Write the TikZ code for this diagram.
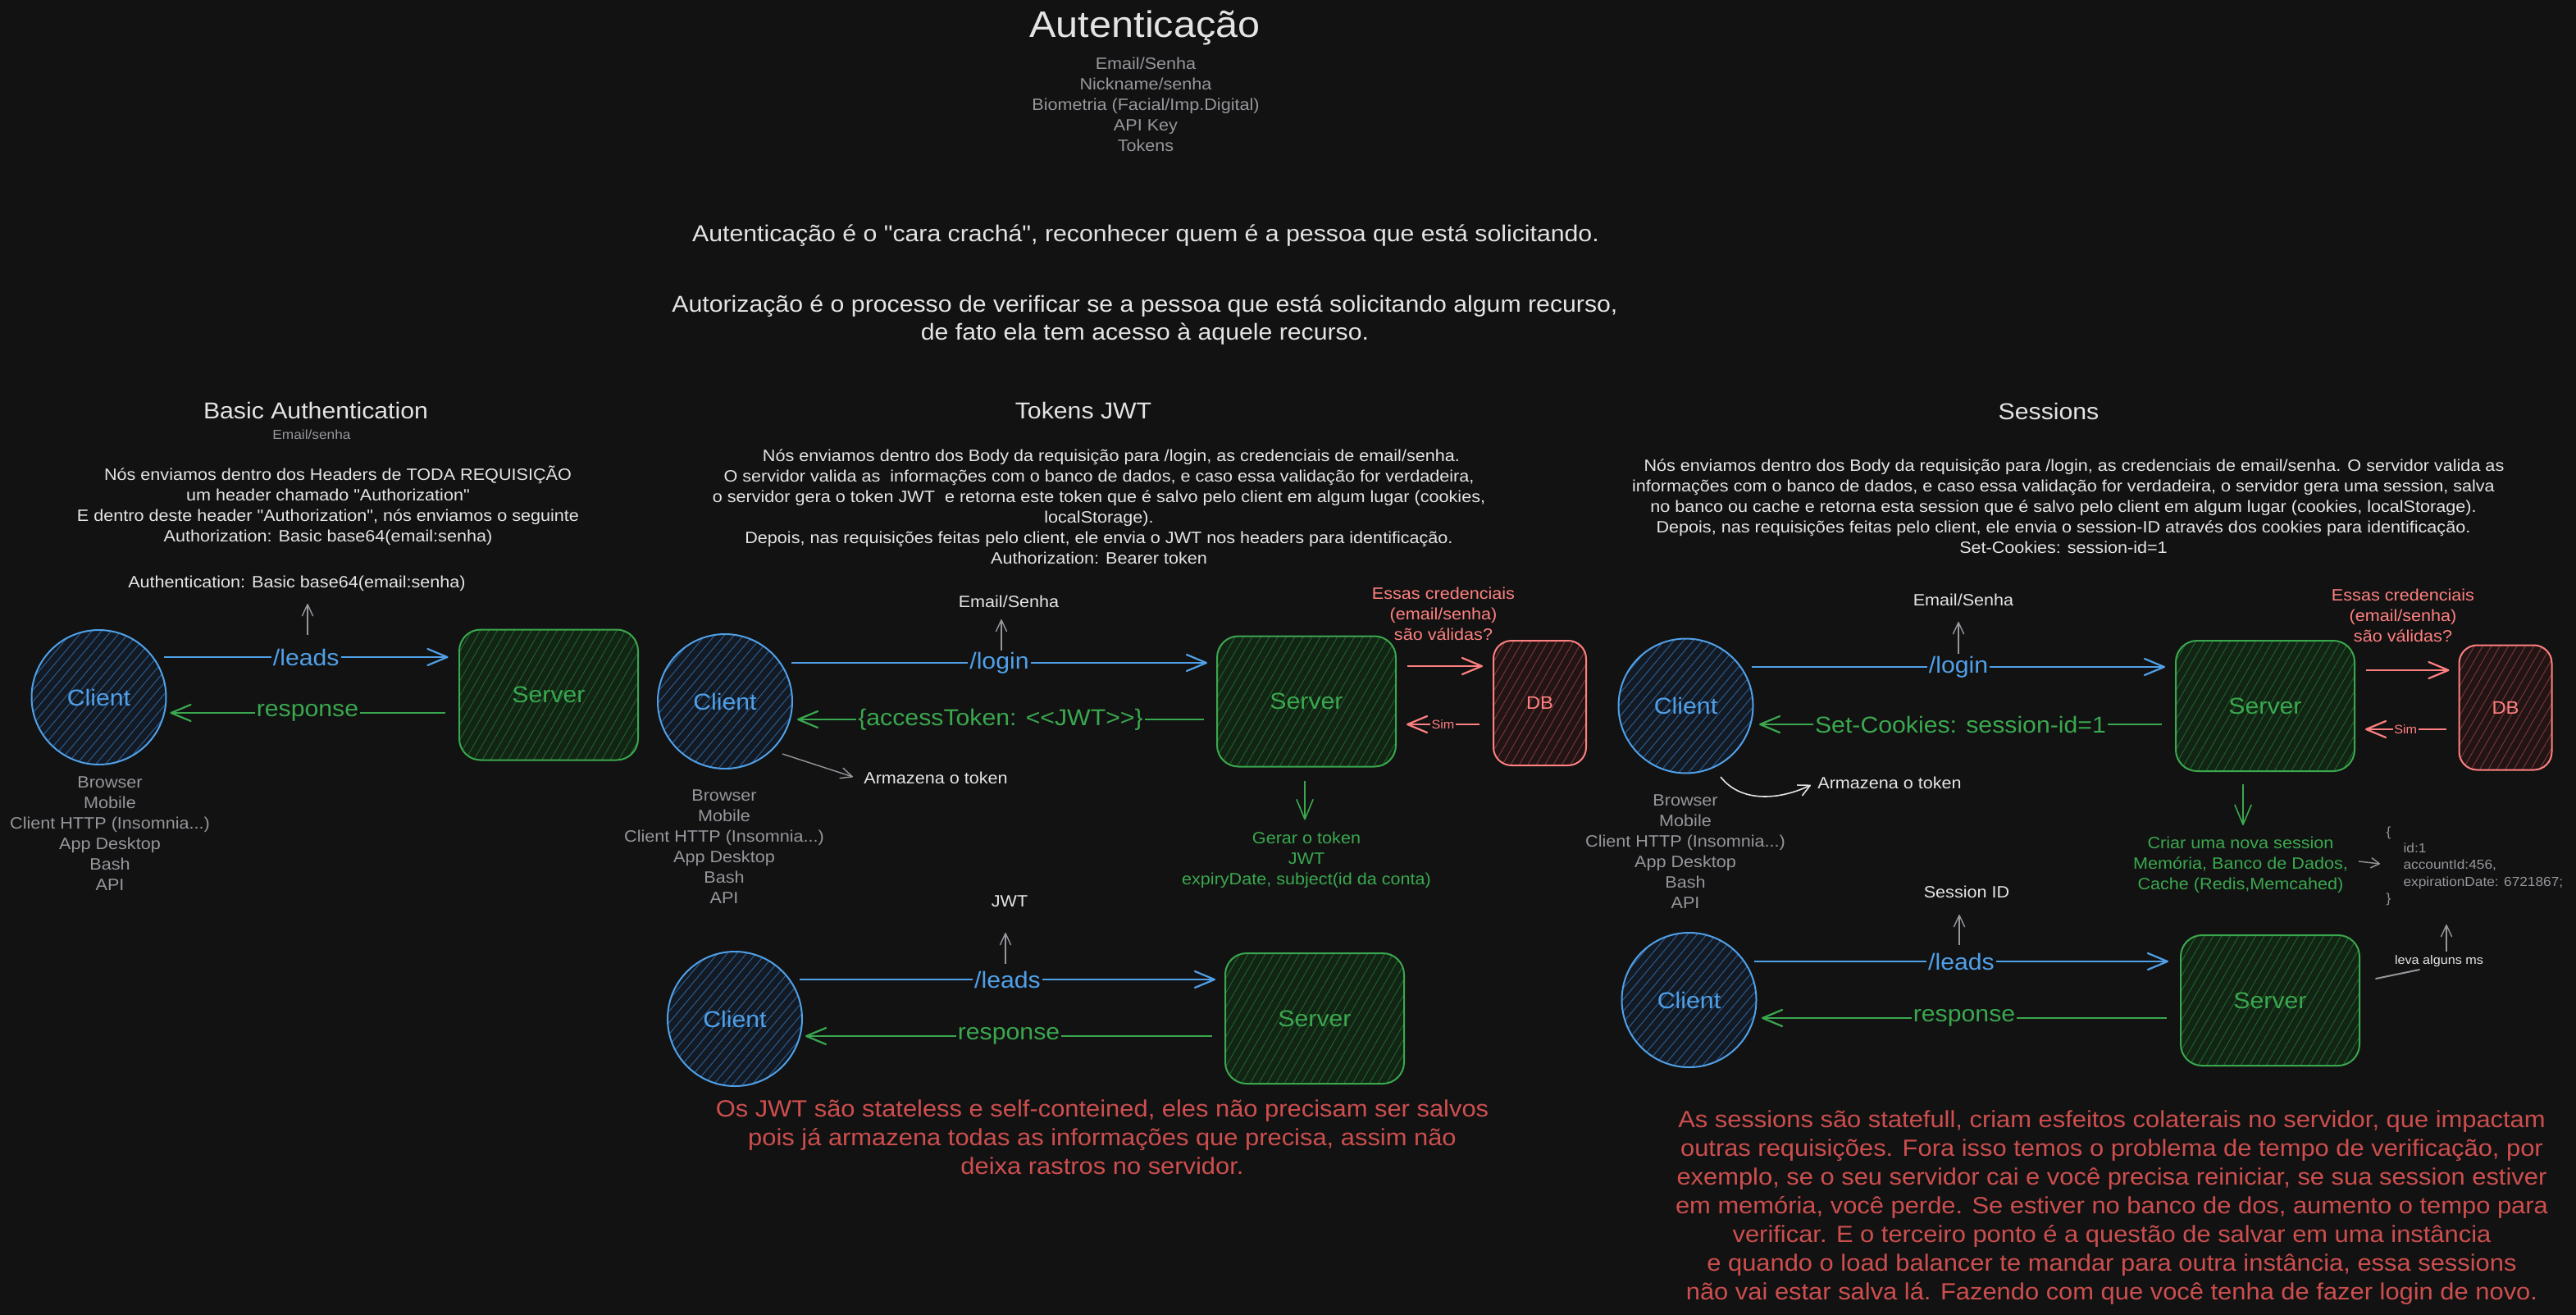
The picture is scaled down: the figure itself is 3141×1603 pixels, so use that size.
\documentclass[tikz,border=0pt]{standalone}
\usepackage{fontspec}
\setmainfont{Liberation Sans}[Ligatures=TeXOff,FakeStretch=1.08]
\usetikzlibrary{arrows.meta,patterns.meta}
\definecolor{bg}{RGB}{18,18,18}
\definecolor{fg}{RGB}{228,228,228}
\definecolor{mut}{RGB}{150,150,156}
\definecolor{cblue}{RGB}{80,160,232}
\definecolor{cgreen}{RGB}{58,168,78}
\definecolor{cred}{RGB}{205,78,78}
\definecolor{csalmon}{RGB}{255,128,128}
\definecolor{hblue}{RGB}{40,92,145}
\definecolor{hgreen}{RGB}{32,96,42}
\definecolor{hred}{RGB}{118,54,54}
\definecolor{fblue}{RGB}{20,26,36}
\definecolor{fgreen}{RGB}{18,36,20}
\definecolor{fred}{RGB}{34,20,20}
\begin{document}
\begin{tikzpicture}[x=1pt,y=-1pt,
  f13/.style={font=\fontsize{13}{16}\selectfont},
  f15/.style={font=\fontsize{15}{19}\selectfont},
  f16/.style={font=\fontsize{16}{20.3}\selectfont},
  f20/.style={font=\fontsize{20}{25}\selectfont},
  f22/.style={font=\fontsize{22}{27}\selectfont},
  f28/.style={font=\fontsize{28}{35}\selectfont},
  f28b/.style={font=\fontsize{28}{34}\selectfont},
  f29/.style={font=\fontsize{28.6}{35}\selectfont},
  f46/.style={font=\fontsize{45}{56}\selectfont},
  client/.style={circle, draw=cblue, line width=2pt, minimum size=164pt, inner sep=0pt,
    preaction={fill=fblue}, pattern={Lines[angle=50,distance=9pt,line width=1pt]},
    pattern color=hblue, text=cblue, f28},
  server/.style={rectangle, rounded corners=26pt, draw=cgreen, line width=2pt,
    minimum width=218pt, minimum height=159pt, inner sep=0pt,
    preaction={fill=fgreen}, pattern={Lines[angle=60,distance=9pt,line width=1pt]},
    pattern color=hgreen, text=cgreen, f28},
  dbbox/.style={rectangle, rounded corners=22pt, draw=csalmon, line width=2pt,
    minimum width=113pt, minimum height=152pt, inner sep=0pt,
    preaction={fill=fred}, pattern={Lines[angle=60,distance=9pt,line width=1pt]},
    pattern color=hred, text=csalmon, f22},
  arr/.style={line width=2.2pt, -{Straight Barb[length=24pt,width=20pt,round]}},
  bluearr/.style={arr, draw=cblue},
  greenarr/.style={arr, draw=cgreen},
  redarr/.style={arr, draw=csalmon},
  grayarr/.style={line width=1.4pt, draw=mut, -{Straight Barb[length=14pt,width=13pt,round]}},
  lbl/.style={fill=bg, inner sep=2pt, f28},
  sml/.style={fill=bg, inner sep=1.5pt, f15},
  wtxt/.style={text=fg},
  gtxt/.style={text=mut},
]
\fill[bg] (0,0) rectangle (3141,1603);

% ---------- Top ----------
\node[f46, wtxt] (title) at (1396,34) {Autenticação};
\node[f20, gtxt, align=center] (methods) at (1397,127.5)
  {Email/Senha\\Nickname/senha\\Biometria (Facial/Imp.Digital)\\API Key\\Tokens};
\node[f28, wtxt] (authn) at (1397,287)
  {Autenticação é o "cara crachá", reconhecer quem é a pessoa que está solicitando.};
\node[f28b, wtxt, align=center] (authz) at (1396,390)
  {Autorização é o processo de verificar se a pessoa que está solicitando algum recurso,\\
   de fato ela tem acesso à aquele recurso.};

% ---------- Basic Authentication ----------
\node[f28, wtxt] (t1) at (385,500) {Basic Authentication};
\node[f16, gtxt] (t1s) at (380,530) {Email/senha};
\node[f20, wtxt, align=center] (p1) at (400,616.5)
  {\hspace*{24pt}Nós enviamos dentro dos Headers de TODA REQUISIÇÃO\\
   um header chamado "Authorization"\\
   E dentro deste header "Authorization", nós enviamos o seguinte\\
   Authorization: Basic base64(email:senha)};
\node[f20, wtxt] (h1) at (362,711) {Authentication: Basic base64(email:senha)};
\coordinate (g1a) at (375,774);
\coordinate (g1b) at (375,736);
\draw[grayarr] (g1a) -- (g1b);
\node[client] (c1) at (120.5,850) {Client};
\node[server] (s1) at (669,847) {Server};
\draw[bluearr] ([shift={(-3,-49)}]c1.east) -- node[lbl, text=cblue] (l1a) {/leads} ([shift={(-13,-46)}]s1.west);
\draw[greenarr] ([shift={(-17,22)}]s1.west) -- node[lbl, text=cgreen] (l1b) {response} ([shift={(4.5,19)}]c1.east);
\node[f20, gtxt, align=center] (d1) at (134,1016.5)
  {Browser\\Mobile\\Client HTTP (Insomnia...)\\App Desktop\\Bash\\API};

% ---------- Tokens JWT ----------
\node[f28, wtxt] (t2) at (1321,500) {Tokens JWT};
\node[f20, wtxt, align=center] (p2) at (1340,618)
  {\hspace*{30pt}Nós enviamos dentro dos Body da requisição para /login, as credenciais de email/senha.\\
   O servidor valida as\ \ informações com o banco de dados, e caso essa validação for verdadeira,\\
   o servidor gera o token JWT\ \ e retorna este token que é salvo pelo client em algum lugar (cookies,\\
   localStorage).\\
   Depois, nas requisições feitas pelo client, ele envia o JWT nos headers para identificação.\\
   Authorization: Bearer token};
\node[f20, wtxt] (e2) at (1230,733) {Email/Senha};
\coordinate (g2a) at (1221,795);
\coordinate (g2b) at (1221,755);
\draw[grayarr] (g2a) -- (g2b);
\node[client] (c2) at (884,855) {Client};
\node[server] (s2) at (1593,855) {Server};
\node[dbbox] (db2) at (1877.5,857) {DB};
\draw[bluearr] ([shift={(-2,-47)}]c2.east) -- node[lbl, text=cblue] (l2a) {/login} ([shift={(-11,-47)}]s2.west);
\draw[greenarr] ([shift={(-15,22)}]s2.west) -- node[lbl, text=cgreen] (l2b) {\{accessToken: <<JWT>>\}} ([shift={(5,22)}]c2.east);
\draw[redarr] ([shift={(13,-43)}]s2.east) -- ([shift={(-12,-45)}]db2.west);
\draw[redarr] ([shift={(-16,26)}]db2.west) -- node[sml, text=csalmon] (l2c) {Sim} ([shift={(12,28)}]s2.east);
\node[f20, text=csalmon, align=center] (q2) at (1760,748)
  {Essas credenciais\\(email/senha)\\são válidas?};
\node[f20, wtxt] (a2) at (1141,948) {Armazena o token};
\coordinate (g2c) at (954,919);
\coordinate (g2d) at (1040,947);
\draw[grayarr] (g2c) -- (g2d);
\node[f20, gtxt, align=center] (d2) at (883,1032.5)
  {Browser\\Mobile\\Client HTTP (Insomnia...)\\App Desktop\\Bash\\API};
\draw[greenarr, line width=1.6pt] ([shift={(-2,16)}]s2.south) -- ([shift={(-2,64)}]s2.south);
\node[f20, text=cgreen, align=center] (gen2) at (1593,1048)
  {Gerar o token\\JWT\\expiryDate, subject(id da conta)};

\node[f20, wtxt] (j3) at (1231,1099) {JWT};
\coordinate (g3a) at (1226,1175);
\coordinate (g3b) at (1226,1137);
\draw[grayarr] (g3a) -- (g3b);
\node[client] (c3) at (896,1242) {Client};
\node[server] (s3) at (1603,1241.5) {Server};
\draw[bluearr] ([shift={(-4,-48)}]c3.east) -- node[lbl, text=cblue] (l3a) {/leads} ([shift={(-11,-47.5)}]s3.west);
\draw[greenarr] ([shift={(-15,21.5)}]s3.west) -- node[lbl, text=cgreen] (l3b) {response} ([shift={(3,21)}]c3.east);
\node[f29, text=cred, align=center] (r3) at (1344,1386)
  {Os JWT são stateless e self-conteined, eles não precisam ser salvos\\
   pois já armazena todas as informações que precisa, assim não\\
   deixa rastros no servidor.};

% ---------- Sessions ----------
\node[f28, wtxt] (t4) at (2498,501) {Sessions};
\node[f20, wtxt, align=center] (p4) at (2516,617)
  {\hspace*{26pt}Nós enviamos dentro dos Body da requisição para /login, as credenciais de email/senha. O servidor valida as\\
   informações com o banco de dados, e caso essa validação for verdadeira, o servidor gera uma session, salva\\
   no banco ou cache e retorna esta session que é salvo pelo client em algum lugar (cookies, localStorage).\\
   Depois, nas requisições feitas pelo client, ele envia o session-ID através dos cookies para identificação.\\
   Set-Cookies: session-id=1};
\node[f20, wtxt] (e4) at (2394,731) {Email/Senha};
\coordinate (g4a) at (2388,797);
\coordinate (g4b) at (2388,758);
\draw[grayarr] (g4a) -- (g4b);
\node[client] (c4) at (2055.5,860.5) {Client};
\node[server] (s4) at (2762,860.5) {Server};
\node[dbbox] (db4) at (3055,862.5) {DB};
\draw[bluearr] ([shift={(-2.5,-47.5)}]c4.east) -- node[lbl, text=cblue] (l4a) {/login} ([shift={(-12,-47.5)}]s4.west);
\draw[greenarr] ([shift={(-16,22.5)}]s4.west) -- node[lbl, text=cgreen] (l4b) {Set-Cookies: session-id=1} ([shift={(6.5,22.5)}]c4.east);
\draw[redarr] ([shift={(13,-43.5)}]s4.east) -- ([shift={(-11,-45.5)}]db4.west);
\draw[redarr] ([shift={(-15,26.5)}]db4.west) -- node[sml, text=csalmon] (l4c) {Sim} ([shift={(12,28.5)}]s4.east);
\node[f20, text=csalmon, align=center] (q4) at (2930,750)
  {Essas credenciais\\(email/senha)\\são válidas?};
\node[f20, wtxt] (a4) at (2304,954) {Armazena o token};
\coordinate (g4c) at (2098,947);
\coordinate (g4d) at (2208,957);
\draw[line width=1.6pt, draw=fg, -{Straight Barb[length=14pt,width=14pt,round]}]
  (g4c) .. controls (2122,978) and (2168,976) .. (g4d);
\node[f20, gtxt, align=center] (d4) at (2055,1038.5)
  {Browser\\Mobile\\Client HTTP (Insomnia...)\\App Desktop\\Bash\\API};
\draw[greenarr, line width=1.6pt] ([shift={(-27,15)}]s4.south) -- ([shift={(-27,65)}]s4.south);
\node[f20, text=cgreen, align=center] (gen4) at (2732,1054.5)
  {Criar uma nova session\\Memória, Banco de Dados,\\Cache (Redis,Memcahed)};
\node[f16, gtxt, align=left, anchor=north west] (json) at (2906,1004)
  {\{\\\hspace*{21pt}id:1\\\hspace*{21pt}accountId:456,\\\hspace*{21pt}expirationDate: 6721867;\\\}};
\coordinate (g4e) at (2876,1050);
\coordinate (g4f) at (2902,1053);
\draw[grayarr, -{Straight Barb[length=10pt,width=12pt,round]}] (g4e) -- (g4f);

\node[f20, wtxt] (sid) at (2398,1087) {Session ID};
\coordinate (g5a) at (2389,1152);
\coordinate (g5b) at (2389,1115);
\draw[grayarr] (g5a) -- (g5b);
\node[client] (c5) at (2059.5,1219) {Client};
\node[server] (s5) at (2768,1219.5) {Server};
\draw[bluearr] ([shift={(-3.5,-47)}]c5.east) -- node[lbl, text=cblue] (l5a) {/leads} ([shift={(-14,-47.5)}]s5.west);
\draw[greenarr] ([shift={(-16,21.5)}]s5.west) -- node[lbl, text=cgreen] (l5b) {response} ([shift={(5.5,22)}]c5.east);
\node[f15, wtxt] (ms) at (2974,1172) {leva alguns ms};
\coordinate (g5c) at (2897,1193);
\coordinate (g5d) at (2950,1182);
\draw[line width=2pt, draw=mut, line cap=round] (g5c) -- (g5d);
\coordinate (g5e) at (2983,1160);
\coordinate (g5f) at (2983,1127);
\draw[grayarr] (g5e) -- (g5f);
\node[f29, text=cred, align=center] (r5) at (2575,1472)
  {As sessions são statefull, criam esfeitos colaterais no servidor, que impactam\\
   outras requisições. Fora isso temos o problema de tempo de verificação, por\\
   exemplo, se o seu servidor cai e você precisa reiniciar, se sua session estiver\\
   em memória, você perde. Se estiver no banco de dos, aumento o tempo para\\
   verificar. E o terceiro ponto é a questão de salvar em uma instância\\
   e quando o load balancer te mandar para outra instância, essa sessions\\
   não vai estar salva lá. Fazendo com que você tenha de fazer login de novo.};
\end{tikzpicture}
\end{document}
